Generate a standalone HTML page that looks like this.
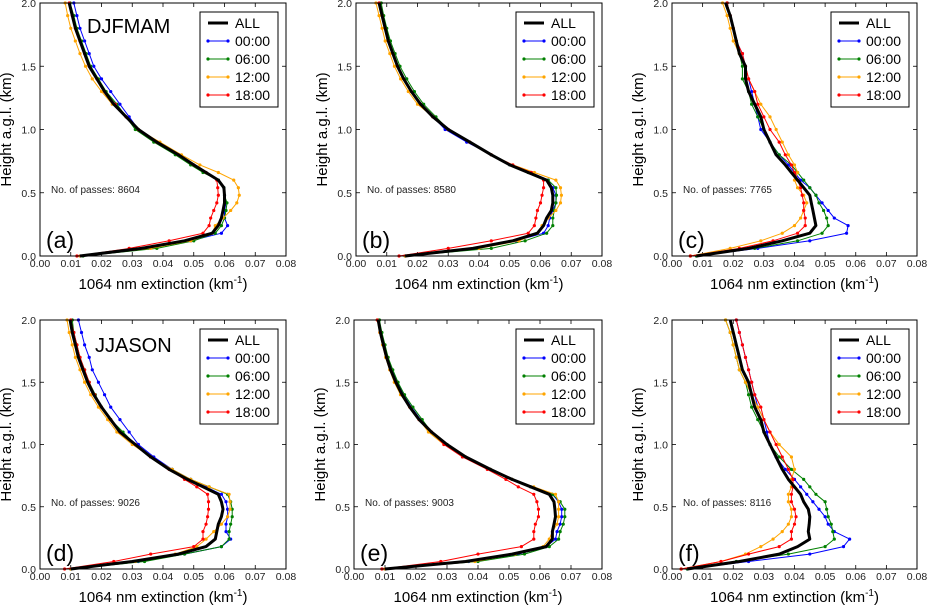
<!DOCTYPE html>
<html><head><meta charset="utf-8">
<style>
html,body{margin:0;padding:0;background:#fff;}
svg{display:block;font-family:"Liberation Sans",sans-serif;}
</style></head>
<body>
<svg id="fig" width="927" height="605" viewBox="0 0 927 605"></svg>
<script>
const heights=[0,0.06,0.12,0.18,0.24,0.3,0.36,0.42,0.48,0.54,0.6,0.66,0.72,0.8,0.9,1.0,1.1,1.2,1.3,1.4,1.5,1.6,1.7,1.8,1.9,2.0];
const seriesNames=["ALL","00:00","06:00","12:00","18:00"];
const seriesColors=["#000000","#0000ff","#008000","#ffa500","#ff0000"];
const xTicks=[0,0.01,0.02,0.03,0.04,0.05,0.06,0.07,0.08];
const xTickLabels=["0.00","0.01","0.02","0.03","0.04","0.05","0.06","0.07","0.08"];
const yTicks=[0,0.5,1.0,1.5,2.0];
const yTickLabels=["0.0","0.5","1.0","1.5","2.0"];
const panelLetters=["(a)","(b)","(c)","(d)","(e)","(f)"];
const passes=["8604","8580","7765","9026","9003","8116"];
const seasonTitles=["DJFMAM","","","JJASON","",""];

const aAll=[0.013,0.033,0.047,0.056,0.058,0.059,0.0595,0.060,0.060,0.0598,0.058,0.054,0.050,0.045,0.038,0.032,0.028,0.024,0.021,0.0185,0.016,0.0145,0.013,0.0115,0.0105,0.0095];
const a00=[0.013,0.034,0.049,0.059,0.061,0.060,0.060,0.0605,0.060,0.0598,0.058,0.054,0.050,0.045,0.038,0.032,0.029,0.026,0.023,0.020,0.0175,0.016,0.0145,0.013,0.012,0.011];
const a06=[0.014,0.038,0.050,0.057,0.059,0.060,0.0605,0.0608,0.060,0.0598,0.058,0.053,0.049,0.044,0.037,0.031,0.028,0.025,0.0215,0.019,0.0165,0.015,0.0135,0.012,0.011,0.0098];
const a12=[0.013,0.036,0.049,0.056,0.057,0.0595,0.062,0.064,0.0648,0.0645,0.063,0.058,0.052,0.046,0.039,0.032,0.028,0.0235,0.020,0.017,0.0148,0.013,0.0115,0.010,0.009,0.0082];
const a18=[0.012,0.029,0.042,0.053,0.055,0.0555,0.0565,0.0575,0.058,0.0578,0.0575,0.054,0.050,0.045,0.038,0.032,0.028,0.0245,0.021,0.0185,0.016,0.0145,0.013,0.0115,0.0105,0.0095];

const bAll=[0.016,0.038,0.051,0.059,0.061,0.062,0.0635,0.064,0.064,0.0635,0.062,0.056,0.050,0.044,0.037,0.030,0.025,0.021,0.018,0.0155,0.0135,0.012,0.0105,0.0095,0.0085,0.0075];
const b00=[0.016,0.039,0.052,0.061,0.0625,0.063,0.064,0.065,0.065,0.064,0.0625,0.057,0.050,0.044,0.036,0.029,0.025,0.021,0.018,0.0157,0.0137,0.0122,0.0108,0.0097,0.0087,0.0077];
const b06=[0.016,0.044,0.055,0.062,0.064,0.064,0.0645,0.065,0.0652,0.065,0.0625,0.056,0.050,0.044,0.037,0.030,0.026,0.022,0.019,0.0165,0.0143,0.0127,0.0112,0.010,0.009,0.0082];
const b12=[0.016,0.040,0.053,0.059,0.0605,0.0625,0.065,0.0665,0.0668,0.0665,0.065,0.058,0.051,0.044,0.037,0.030,0.025,0.020,0.017,0.0145,0.0125,0.011,0.0095,0.0085,0.0075,0.0065];
const b18=[0.014,0.030,0.044,0.056,0.058,0.0585,0.059,0.060,0.0605,0.061,0.061,0.057,0.051,0.044,0.037,0.030,0.025,0.021,0.018,0.0155,0.0135,0.012,0.0105,0.0095,0.0085,0.0075];

const cAll=[0.008,0.025,0.036,0.045,0.047,0.0465,0.046,0.0455,0.045,0.043,0.041,0.039,0.037,0.034,0.032,0.030,0.029,0.027,0.025,0.024,0.024,0.022,0.021,0.020,0.019,0.0175];
const c00=[0.008,0.028,0.045,0.057,0.0575,0.053,0.051,0.049,0.047,0.045,0.042,0.040,0.038,0.035,0.032,0.029,0.028,0.027,0.026,0.025,0.024,0.023,0.021,0.020,0.019,0.018];
const c06=[0.008,0.027,0.041,0.049,0.051,0.0505,0.0495,0.048,0.047,0.045,0.043,0.041,0.039,0.035,0.032,0.030,0.028,0.026,0.025,0.023,0.023,0.022,0.021,0.020,0.019,0.018];
const c12=[0.006,0.019,0.029,0.036,0.040,0.042,0.043,0.044,0.043,0.041,0.040,0.041,0.040,0.038,0.036,0.034,0.032,0.029,0.027,0.025,0.024,0.022,0.020,0.019,0.018,0.0165];
const c18=[0.006,0.022,0.033,0.041,0.0435,0.0435,0.043,0.043,0.0425,0.042,0.041,0.040,0.039,0.037,0.035,0.032,0.030,0.028,0.027,0.025,0.024,0.023,0.021,0.020,0.019,0.018];

const dAll=[0.010,0.030,0.045,0.054,0.057,0.0575,0.058,0.059,0.0595,0.059,0.058,0.053,0.048,0.042,0.036,0.031,0.026,0.023,0.020,0.0175,0.0155,0.014,0.0125,0.0115,0.0105,0.0098];
const d00=[0.010,0.032,0.047,0.059,0.062,0.0605,0.0605,0.061,0.061,0.0605,0.059,0.054,0.049,0.043,0.037,0.032,0.029,0.026,0.023,0.021,0.019,0.017,0.016,0.0145,0.0135,0.0125];
const d06=[0.010,0.034,0.047,0.059,0.0615,0.0615,0.062,0.0625,0.0625,0.062,0.061,0.055,0.049,0.043,0.036,0.031,0.027,0.023,0.020,0.018,0.016,0.0145,0.013,0.012,0.011,0.0105];
const d12=[0.010,0.031,0.044,0.051,0.054,0.0565,0.059,0.061,0.0618,0.0618,0.0615,0.055,0.049,0.043,0.036,0.030,0.025,0.022,0.019,0.0165,0.0145,0.013,0.0115,0.0105,0.0095,0.0088];
const d18=[0.008,0.024,0.036,0.050,0.053,0.053,0.054,0.0545,0.0548,0.0548,0.0545,0.051,0.047,0.042,0.036,0.031,0.026,0.023,0.020,0.0178,0.016,0.0145,0.013,0.012,0.011,0.010];

const eAll=[0.010,0.036,0.051,0.062,0.064,0.064,0.0645,0.065,0.0648,0.0645,0.063,0.057,0.051,0.044,0.036,0.030,0.025,0.021,0.018,0.0155,0.0135,0.0118,0.0105,0.0095,0.0085,0.0078];
const e00=[0.010,0.037,0.053,0.062,0.065,0.0655,0.0665,0.067,0.067,0.066,0.064,0.057,0.051,0.044,0.036,0.030,0.025,0.0215,0.0185,0.016,0.014,0.0122,0.0108,0.0098,0.0088,0.008];
const e06=[0.010,0.040,0.055,0.063,0.066,0.0665,0.0675,0.068,0.068,0.0665,0.064,0.057,0.051,0.044,0.036,0.030,0.025,0.022,0.019,0.0163,0.0142,0.0125,0.011,0.010,0.009,0.0082];
const e12=[0.010,0.039,0.052,0.061,0.063,0.064,0.0655,0.066,0.066,0.066,0.065,0.058,0.051,0.044,0.036,0.029,0.024,0.021,0.018,0.015,0.013,0.0115,0.0102,0.0092,0.0083,0.0075];
const e18=[0.009,0.028,0.040,0.054,0.058,0.058,0.0585,0.0595,0.0595,0.059,0.058,0.053,0.049,0.043,0.035,0.029,0.025,0.021,0.018,0.0155,0.0135,0.0118,0.0105,0.0095,0.0085,0.0075];

const fAll=[0.005,0.022,0.035,0.041,0.045,0.0445,0.0448,0.045,0.0445,0.043,0.042,0.040,0.038,0.036,0.034,0.032,0.030,0.029,0.027,0.026,0.025,0.023,0.022,0.021,0.020,0.019];
const f00=[0.005,0.025,0.045,0.056,0.058,0.053,0.051,0.050,0.048,0.046,0.044,0.042,0.040,0.037,0.034,0.032,0.031,0.030,0.028,0.027,0.026,0.025,0.024,0.023,0.022,0.021];
const f06=[0.005,0.021,0.038,0.050,0.053,0.0525,0.052,0.051,0.0505,0.050,0.047,0.045,0.043,0.039,0.035,0.032,0.030,0.028,0.026,0.025,0.024,0.022,0.021,0.020,0.019,0.0175];
const f12=[0.003,0.016,0.024,0.029,0.033,0.036,0.038,0.039,0.039,0.038,0.038,0.039,0.039,0.040,0.039,0.035,0.032,0.030,0.028,0.026,0.024,0.022,0.021,0.020,0.019,0.0175];
const f18=[0.003,0.016,0.025,0.035,0.039,0.039,0.040,0.0405,0.040,0.039,0.039,0.0395,0.0395,0.038,0.036,0.034,0.032,0.030,0.029,0.027,0.026,0.025,0.024,0.023,0.022,0.021];

const panelSeries=[[aAll,a00,a06,a12,a18],[bAll,b00,b06,b12,b18],[cAll,c00,c06,c12,c18],[dAll,d00,d06,d12,d18],[eAll,e00,e06,e12,e18],[fAll,f00,f06,f12,f18]];

const NS="http://www.w3.org/2000/svg";
const svg=document.getElementById("fig");
function mk(tag,attrs,parent){const e=document.createElementNS(NS,tag);for(const k in attrs)e.setAttribute(k,attrs[k]);(parent||svg).appendChild(e);return e;}

const boxes=[
 {l:40,r:286,t:3,b:256},{l:356,r:602,t:3,b:256},{l:672,r:917,t:3,b:256},
 {l:40,r:286,t:320,b:569},{l:354,r:602,t:320,b:569},{l:672,r:917,t:320,b:569}];

panelSeries.forEach((series,p)=>{
  const B=boxes[p];
  const g=mk("g",{});
  
  
  const xs=v=>B.l+(v-0)/(0.08)*(B.r-B.l);
  const ys=v=>B.b-(v/2.0)*(B.b-B.t);
  // ticks
  xTicks.forEach((t,i)=>{
    const x=xs(t);
    mk("line",{x1:x,x2:x,y1:B.b,y2:B.b-4,stroke:"#000","stroke-width":0.8},g);
    mk("line",{x1:x,x2:x,y1:B.t,y2:B.t+4,stroke:"#000","stroke-width":0.8},g);
    const tx=mk("text",{x:x,y:B.b+11,"font-size":10.5,"text-anchor":"middle",fill:"#222"},g);
    
    
    tx.textContent=xTickLabels[i];
  });
  yTicks.forEach((t,i)=>{
    const y=ys(t);
    mk("line",{x1:B.l,x2:B.l+4,y1:y,y2:y,stroke:"#000","stroke-width":0.8},g);
    mk("line",{x1:B.r,x2:B.r-4,y1:y,y2:y,stroke:"#000","stroke-width":0.8},g);
    const ty=mk("text",{x:B.l-4,y:y+4,"font-size":10.5,"text-anchor":"end",fill:"#222"},g);
    
    
    ty.textContent=yTickLabels[i];
  });
  // series (draw colored first, ALL on top)
  const order=[1,2,3,4,0];
  order.forEach(si=>{
    const vals=series[si];
    const pts=vals.map((v,i)=>xs(v).toFixed(1)+","+ys(heights[i]).toFixed(1)).join(" ");
    const pl=mk("polyline",{points:pts,fill:"none",stroke:seriesColors[si],"stroke-width":si===0?3:1,"stroke-linejoin":"round"},g);
    
    
    if(si!==0){
      vals.forEach((v,i)=>{
        const c=mk("circle",{cx:xs(v),cy:ys(heights[i]),r:1.6,fill:seriesColors[si]},g);
        
        
      });
    }
  });
  const fr=mk("rect",{x:B.l,y:B.t,width:B.r-B.l,height:B.b-B.t,fill:"none",stroke:"#000","stroke-width":1},g);
  
  
  // legend
  const lx=B.r-86,ly=B.t+9;
  const lg=mk("g",{},g);
  
  
  mk("rect",{x:lx,y:ly,width:78,height:95,fill:"#fff",stroke:"#000","stroke-width":1},lg);
  seriesNames.forEach((n,i)=>{
    const yy=ly+11+i*18;
    const le=mk("g",{},lg);
    
    
    mk("line",{x1:lx+8,x2:lx+28,y1:yy,y2:yy,stroke:seriesColors[i],"stroke-width":i===0?3:1},le);
    if(i>0){mk("circle",{cx:lx+8,cy:yy,r:1.6,fill:seriesColors[i]},le);mk("circle",{cx:lx+28,cy:yy,r:1.6,fill:seriesColors[i]},le);}
    const t=mk("text",{x:lx+35,y:yy+5,"font-size":14,fill:"#000"},le);
    t.textContent=n;
  });
  // annotations
  const np=mk("text",{x:B.l+11,y:B.t+(p<3?190:186),"font-size":10,fill:"#222"},g);
  
  
  np.textContent="No. of passes: "+passes[p];
  const pl=mk("text",{x:B.l+6,y:B.b-8,"font-size":23,fill:"#000"},g);
  
  
  pl.textContent=panelLetters[p];
  if(seasonTitles[p]){
    const st=mk("text",{x:B.l+(p===0?47:55),y:B.t+(p===0?30:32),"font-size":20,fill:"#000"},g);
    
    
    st.textContent=seasonTitles[p];
  }
  // axis titles
  const xt=mk("text",{x:(B.l+B.r)/2,y:B.b+33,"font-size":15,"text-anchor":"middle",fill:"#000"},g);
  
  
  xt.innerHTML='1064 nm extinction (km<tspan font-size="10" dy="-6">-1</tspan><tspan dy="6">)</tspan>';
  const cy=(B.t+B.b)/2;
  const yt=mk("text",{x:B.l-29,y:cy,"font-size":15,"text-anchor":"middle",fill:"#000",transform:"rotate(-90 "+(B.l-29)+" "+cy+")"},g);
  
  
  yt.textContent="Height a.g.l. (km)";
});
</script>
</body></html>
